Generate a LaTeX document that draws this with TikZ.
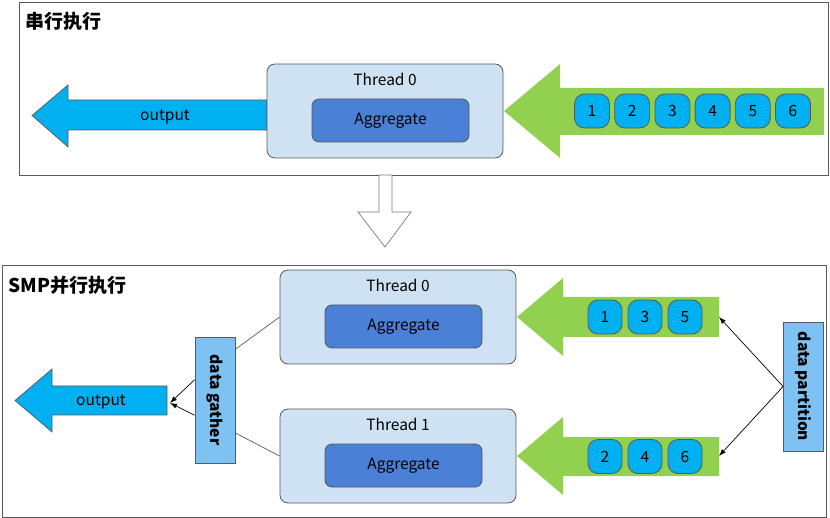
\documentclass[tikz,border=0pt]{standalone}
\usepackage{fontspec}
\setmainfont{Noto Sans CJK SC}
\newfontfamily\cjk{Noto Sans CJK SC}
\usetikzlibrary{positioning,calc,arrows.meta}
\definecolor{outcyan}{RGB}{0,176,240}
\definecolor{ingreen}{RGB}{146,208,80}
\definecolor{threadfill}{RGB}{207,226,244}
\definecolor{aggfill}{RGB}{74,128,214}
\definecolor{sidefill}{RGB}{125,194,242}
\definecolor{edgegray}{RGB}{89,89,89}

\tikzset{
  frame/.style={draw=edgegray, line width=0.9pt},
  title/.style={anchor=west, font=\cjk\bfseries\fontsize{19}{21}\selectfont},
  threadbox/.style={draw=edgegray, fill=threadfill, rounded corners=8pt, line width=0.8pt,
    minimum width=236pt, minimum height=94pt},
  threadlabel/.style={font=\fontsize{15.5}{17}\selectfont, inner sep=0pt},
  aggbox/.style={draw=edgegray, fill=aggfill, rounded corners=7pt, line width=0.8pt,
    minimum width=157pt, minimum height=43pt, font=\fontsize{15.5}{17}\selectfont},
  numbox/.style={draw=edgegray, fill=outcyan, rounded corners=10pt, line width=0.8pt,
    minimum width=35pt, minimum height=34pt, inner sep=0pt, font=\fontsize{15.5}{17}\selectfont},
  sidebox/.style={draw=edgegray, fill=sidefill, rotate=-90, line width=0.8pt,
    minimum height=40pt, inner sep=0pt, font=\bfseries\fontsize{15.5}{17}\selectfont},
  outarrow/.style={draw=edgegray, fill=outcyan, line width=0.7pt},
  inarrow/.style={fill=ingreen},
  link/.style={draw=edgegray, line width=0.7pt},
  linkarrow/.style={link, -{Latex[length=7pt,width=5pt]}, black}
}

\begin{document}
\begin{tikzpicture}[x=1pt,y=-1pt]
\useasboundingbox (0,0) rectangle (830,518);

% serial part
\draw[frame] (19,2) rectangle (828,175);
\node[title] (t1) at (22,21) {串行执行};

\draw[outarrow] (267,100) -- (68,100) -- (68,85) -- (32,115.5) -- (68,147) -- (68,130) -- (267,130) -- cycle;
\node[font=\fontsize{15.5}{17}\selectfont] (out1) at (165,117) {output};

\node[threadbox] (th) at (385,111) {};
\node[threadlabel, below=9pt of th.north] (thl) {Thread 0};
\node[aggbox] (agg) at (390.5,120.5) {Aggregate};

\path[inarrow] (824,88) -- (560,88) -- (560,64) -- (504,111) -- (560,158) -- (560,135) -- (824,135) -- cycle;
\foreach \i in {1,...,6}
  \node[numbox] (n\i) at ({592+40.2*(\i-1)},111) {\i};

% down arrow
\draw[draw=edgegray!80, fill=white, line width=0.7pt]
  (379,175) -- (379,212) -- (358,212) -- (385,247) -- (411,212) -- (392,212) -- (392,175) -- cycle;

% SMP part
\draw[frame] (2,265) rectangle (826,517);
\node[title] (t2) at (5,285) {SMP并行执行};

\draw[outarrow] (167,386) -- (52,386) -- (52,369) -- (15,400.5) -- (52,432) -- (52,415) -- (167,415) -- cycle;
\node[font=\fontsize{15.5}{17}\selectfont] (out2) at (101,402) {output};
\coordinate (outend) at (170,403);

\node[threadbox] (th0) at (398,317) {};
\node[threadlabel, below=9pt of th0.north] (th0l) {Thread 0};
\node[aggbox] (agg0) at (403.5,326.5) {Aggregate};

\node[threadbox] (th1) at (398,456) {};
\node[threadlabel, below=9pt of th1.north] (th1l) {Thread 1};
\node[aggbox] (agg1) at (403.5,465.5) {Aggregate};

\node[sidebox, minimum width=126pt] (gather) at (215,400) {data gather};
\node[sidebox, minimum width=129pt] (part) at (803.5,386.5) {data partition};

\path[inarrow] (719,297) -- (563,297) -- (563,278) -- (517,317) -- (563,356) -- (563,337) -- (719,337) -- cycle;
\path[inarrow] (719,437) -- (563,437) -- (563,417) -- (517,456) -- (563,495) -- (563,476) -- (719,476) -- cycle;
\coordinate (in0) at (719,317);
\coordinate (in1) at (719,456);

\foreach \v [count=\k] in {1,3,5}
  \node[numbox, minimum width=34pt] (a\v) at ({605+40*(\k-1)},317) {\v};
\foreach \v [count=\k] in {2,4,6}
  \node[numbox, minimum width=34pt] (b\v) at ({605+40*(\k-1)},456.5) {\v};

% connectors
\draw[link] ($(gather.north west)!0.1!(gather.north east)$) -- (th0.west);
\draw[link] ($(gather.north west)!0.76!(gather.north east)$) -- (th1.west);
\draw[linkarrow] ($(gather.south west)!0.34!(gather.south east)$) -- (outend);
\draw[linkarrow] ($(gather.south west)!0.62!(gather.south east)$) -- (outend);
\draw[linkarrow] (part.south) -- (in0);
\draw[linkarrow] (part.south) -- (in1);
\end{tikzpicture}
\end{document}
